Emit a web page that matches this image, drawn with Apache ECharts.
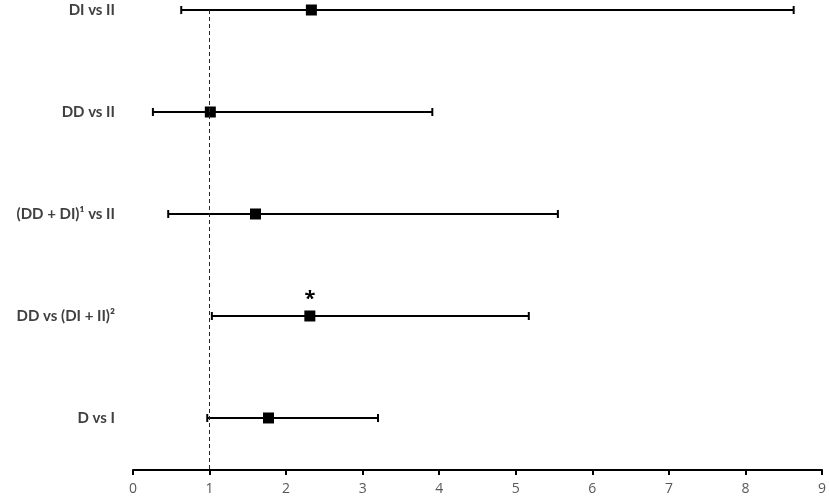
<!DOCTYPE html>
<html><head><meta charset="utf-8">
<script src="https://cdn.jsdelivr.net/npm/echarts@6/dist/echarts.min.js"></script>
<style>html,body{margin:0;padding:0;background:#fff}#c{width:829px;height:498px}</style>
</head><body><div id="c"></div>
<script>
const categories = ['DI vs II', 'DD vs II', '(DD + DI)\u00B9 vs II', 'DD vs (DI + II)\u00B2', 'D vs I'];
const estimates = [2.33, 1.01, 1.60, 2.31, 1.77];
const lowerCI = [0.63, 0.26, 0.46, 1.03, 0.97];
const upperCI = [8.63, 3.91, 5.55, 5.17, 3.20];
const significance = ['', '', '', '*', ''];
const xTicks = [0, 1, 2, 3, 4, 5, 6, 7, 8, 9];
const refValue = 1;

const n = categories.length;
const rowPos = categories.map((c, i) => n - i);

const errData = categories.map((c, i) => [lowerCI[i], upperCI[i], rowPos[i], i]);
const ptData = categories.map((c, i) => ({ value: [estimates[i], rowPos[i]], sig: significance[i] }));

const chart = echarts.init(document.getElementById('c'), null, { renderer: 'canvas' });
chart.setOption({
  animation: false,
  backgroundColor: '#ffffff',
  grid: { left: 133, right: 6.3, top: 10, bottom: 28 },
  xAxis: {
    type: 'value', min: xTicks[0], max: xTicks[xTicks.length - 1], interval: 1,
    axisLine: { show: true, lineStyle: { color: '#000', width: 2 } },
    axisTick: { show: true, length: 5, lineStyle: { color: '#000', width: 2 } },
    axisLabel: { color: '#595959', fontSize: 14, fontFamily: 'Open Sans', margin: 12 },
    splitLine: { show: false }
  },
  yAxis: {
    type: 'value', min: 0.49, max: 5,
    show: false
  },
  series: [
    {
      type: 'custom',
      data: errData,
      clip: false,
      renderItem: function (params, api) {
        const lo = api.coord([api.value(0), api.value(2)]);
        const hi = api.coord([api.value(1), api.value(2)]);
        const idx = api.value(3);
        const h = 4;
        const st = { stroke: '#000', lineWidth: 2 };
        return {
          type: 'group',
          children: [
            { type: 'line', shape: { x1: lo[0], y1: lo[1], x2: hi[0], y2: hi[1] }, style: st },
            { type: 'line', shape: { x1: lo[0], y1: lo[1] - h, x2: lo[0], y2: lo[1] + h }, style: st },
            { type: 'line', shape: { x1: hi[0], y1: hi[1] - h, x2: hi[0], y2: hi[1] + h }, style: st },
            { type: 'text', x: 115, y: lo[1], style: {
                text: categories[idx], fill: '#404040', font: 'bold 15px Lato',
                align: 'right', verticalAlign: 'middle' } }
          ]
        };
      },
      markLine: {
        silent: true, symbol: 'none',
        lineStyle: { color: '#262626', type: [4, 3], width: 1 },
        label: { show: false },
        data: [[{ coord: [refValue, 5] }, { coord: [refValue, 0.49] }]]
      },
      z: 2
    },
    {
      type: 'scatter',
      data: ptData,
      symbol: 'rect',
      symbolSize: 11,
      itemStyle: { color: '#000', opacity: 1 },
      label: {
        show: true, position: 'top', distance: 1,
        formatter: p => p.data.sig, color: '#000', fontSize: 20, fontWeight: 'bold', fontFamily: 'Open Sans'
      },
      z: 3
    }
  ]
});
</script></body></html>
